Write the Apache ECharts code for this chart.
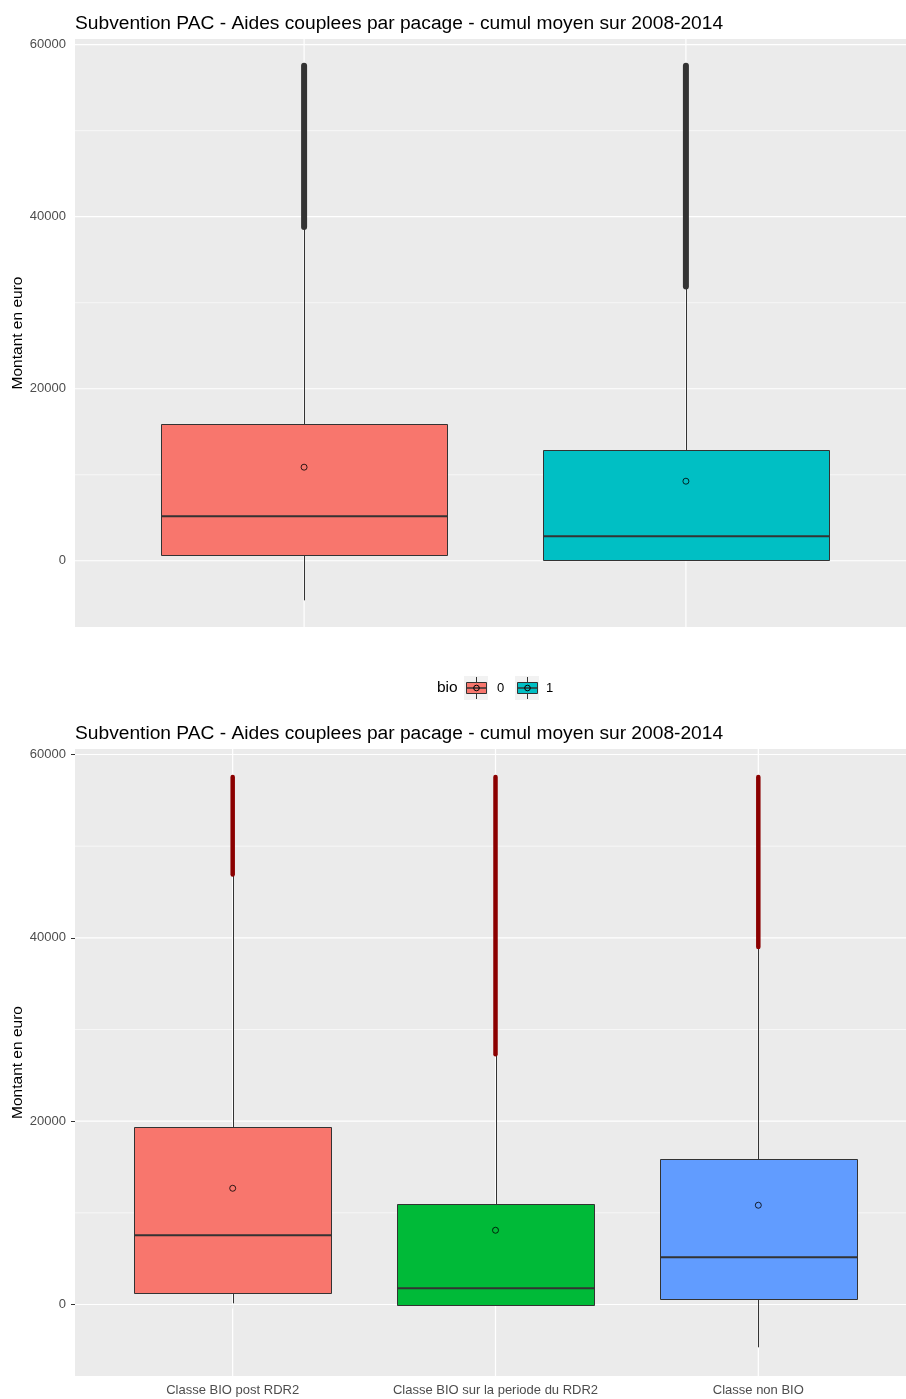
<!DOCTYPE html>
<html>
<head>
<meta charset="utf-8">
<script src="https://cdn.jsdelivr.net/npm/echarts@6/dist/echarts.min.js"></script>
<style>
  html, body { margin: 0; padding: 0; background: #ffffff; }
  #chart { width: 906px; height: 1399px; }
</style>
</head>
<body>
<div id="chart"></div>
<script>
// Upper panel: subsidies grouped by the "bio" flag
const bioGroups = ['0', '1'];
const bioLow = [-4600, 0];
const bioQ1 = [640, 50];
const bioMedian = [5180, 2850];
const bioQ3 = [15890, 12860];
const bioHigh = [38700, 31800];
const bioMean = [10880, 9250];
const bioOutlierMin = [38800, 31900];
const bioOutlierMax = [57550, 57550];
const bioColors = ['#F8766D', '#00BFC4'];

// Lower panel: subsidies grouped by organic-farming class
const classGroups = ['Classe BIO post RDR2', 'Classe BIO sur la periode du RDR2', 'Classe non BIO'];
const classLow = [130, 0, -4670];
const classQ1 = [1220, 0, 570];
const classMedian = [7550, 1770, 5150];
const classQ3 = [19340, 10940, 15850];
const classHigh = [46800, 27200, 38900];
const classMean = [12680, 8100, 10830];
const classOutlierMin = [46900, 27300, 39000];
const classOutlierMax = [57550, 57550, 57550];
const classColors = ['#F8766D', '#00BA38', '#619CFF'];

// Y tick values shared by both panels
const yMajorTicks = [0, 20000, 40000, 60000];
const yMinorTicks = [10000, 30000, 50000];

const TITLE = 'Subvention PAC - Aides couplees par pacage - cumul moyen sur 2008-2014';
const Y_NAME = 'Montant en euro';
const FONT = "'Liberation Sans', Arial, Helvetica, sans-serif";
const BOX_WIDTH = 0.75;
const LINE_COL = '#333333';

// Horizontal grid lines spanning the whole plotting area
function hGridSeries(gridIdx, values, width) {
  return {
    type: 'custom', xAxisIndex: gridIdx, yAxisIndex: gridIdx, z: 1, silent: true,
    data: values.map(v => [1, v]),
    encode: { x: 0, y: 1 },
    renderItem(params, api) {
      const cs = params.coordSys;
      const y = api.coord([api.value(0), api.value(1)])[1];
      return { type: 'line', shape: { x1: cs.x, y1: y, x2: cs.x + cs.width, y2: y },
               style: { stroke: '#ffffff', lineWidth: width } };
    }
  };
}

// Vertical grid lines at each category position
function vGridSeries(gridIdx, count) {
  const pos = [];
  for (let i = 1; i <= count; i++) pos.push([i, 0]);
  return {
    type: 'custom', xAxisIndex: gridIdx, yAxisIndex: gridIdx, z: 1, silent: true,
    data: pos,
    encode: { x: 0, y: 1 },
    renderItem(params, api) {
      const cs = params.coordSys;
      const x = api.coord([api.value(0), api.value(1)])[0];
      return { type: 'line', shape: { x1: x, y1: cs.y, x2: x, y2: cs.y + cs.height },
               style: { stroke: '#ffffff', lineWidth: 1.2 } };
    }
  };
}

// Box, whiskers and median bar
function boxSeries(gridIdx, low, q1, med, q3, high, colors) {
  return {
    type: 'custom', xAxisIndex: gridIdx, yAxisIndex: gridIdx, z: 2, silent: true,
    data: low.map((v, i) => [i + 1, low[i], q1[i], med[i], q3[i], high[i]]),
    dimensions: ['x', 'low', 'q1', 'median', 'q3', 'high'],
    encode: { x: 0, y: [1, 2, 3, 4, 5] },
    renderItem(params, api) {
      const x = api.value(0);
      const pLow = api.coord([x, api.value(1)]);
      const pQ1 = api.coord([x, api.value(2)]);
      const pMed = api.coord([x, api.value(3)]);
      const pQ3 = api.coord([x, api.value(4)]);
      const pHigh = api.coord([x, api.value(5)]);
      const half = api.size([BOX_WIDTH, 0])[0] / 2;
      const cx = Math.round(pQ1[0]) + 0.5;
      const left = Math.round(pQ1[0] - half) + 0.5;
      const right = Math.round(pQ1[0] + half) + 0.5;
      const top = Math.round(pQ3[1]) + 0.5;
      const bottom = Math.round(pQ1[1]) + 0.5;
      const color = colors[params.dataIndex];
      return {
        type: 'group',
        children: [
          { type: 'line', shape: { x1: cx, y1: pHigh[1], x2: cx, y2: top }, style: { stroke: LINE_COL, lineWidth: 1 } },
          { type: 'line', shape: { x1: cx, y1: bottom, x2: cx, y2: pLow[1] }, style: { stroke: LINE_COL, lineWidth: 1 } },
          { type: 'rect', shape: { x: left, y: top, width: right - left, height: bottom - top },
            style: { fill: color, stroke: LINE_COL, lineWidth: 1 } },
          { type: 'line', shape: { x1: left, y1: pMed[1], x2: right, y2: pMed[1] },
            style: { stroke: LINE_COL, lineWidth: 2 } }
        ]
      };
    }
  };
}

// Dense run of outlying points above the upper whisker
function outlierSeries(gridIdx, lo, hi, color, width) {
  return {
    type: 'custom', xAxisIndex: gridIdx, yAxisIndex: gridIdx, z: 3, silent: true,
    data: lo.map((v, i) => [i + 1, lo[i], hi[i]]),
    encode: { x: 0, y: [1, 2] },
    renderItem(params, api) {
      const a = api.coord([api.value(0), api.value(1)]);
      const b = api.coord([api.value(0), api.value(2)]);
      return { type: 'line', shape: { x1: a[0], y1: a[1], x2: b[0], y2: b[1] },
               style: { stroke: color, lineWidth: width, lineCap: 'round' } };
    }
  };
}

// Group means as open circles
function meanSeries(gridIdx, means) {
  return {
    type: 'scatter', xAxisIndex: gridIdx, yAxisIndex: gridIdx, z: 4, silent: true,
    data: means.map((v, i) => [i + 1, v]),
    symbol: 'circle', symbolSize: 6,
    itemStyle: { color: 'rgba(0,0,0,0)', borderColor: '#000000', borderWidth: 1 },
    emphasis: { disabled: true }
  };
}

function yAxisDef(gridIdx, min, max, withTicks) {
  return {
    type: 'value', gridIndex: gridIdx, min, max,
    axisLine: { show: false },
    splitLine: { show: false },
    axisTick: { show: withTicks, customValues: yMajorTicks, length: 4, lineStyle: { color: LINE_COL, width: 1 } },
    axisLabel: {
      customValues: yMajorTicks, margin: 9, color: '#4D4D4D', fontSize: 13, fontFamily: FONT,
      showMinLabel: true, showMaxLabel: true,
      formatter: v => (yMajorTicks.indexOf(v) >= 0 ? String(v) : '')
    },
    name: Y_NAME, nameLocation: 'middle', nameRotate: 90, nameGap: 49, nameMoveOverlap: false,
    nameTextStyle: { color: '#000000', fontSize: 15.5, fontFamily: FONT }
  };
}

function legendKey(x, color) {
  return {
    type: 'group', x: x, y: 676, silent: true,
    children: [
      { type: 'rect', shape: { x: 0, y: 0, width: 24, height: 24 }, style: { fill: '#F2F2F2' } },
      { type: 'line', shape: { x1: 12.5, y1: 1, x2: 12.5, y2: 7 }, style: { stroke: LINE_COL, lineWidth: 1 } },
      { type: 'line', shape: { x1: 12.5, y1: 17, x2: 12.5, y2: 23 }, style: { stroke: LINE_COL, lineWidth: 1 } },
      { type: 'rect', shape: { x: 2.5, y: 6.5, width: 20, height: 11 }, style: { fill: color, stroke: LINE_COL, lineWidth: 1 } },
      { type: 'line', shape: { x1: 2.5, y1: 12, x2: 22.5, y2: 12 }, style: { stroke: LINE_COL, lineWidth: 1.5 } },
      { type: 'circle', shape: { cx: 12.5, cy: 12, r: 2.8 }, style: { fill: 'none', stroke: '#000000', lineWidth: 1 } }
    ]
  };
}

const chart = echarts.init(document.getElementById('chart'), null, { renderer: 'canvas' });

chart.setOption({
  animation: false,
  backgroundColor: '#ffffff',
  textStyle: { fontFamily: FONT },
  title: [
    { text: TITLE, left: 75, top: 14, padding: 0, textStyle: { fontSize: 19.2, fontWeight: 'normal', color: '#000000', fontFamily: FONT } },
    { text: TITLE, left: 75, top: 724, padding: 0, textStyle: { fontSize: 19.2, fontWeight: 'normal', color: '#000000', fontFamily: FONT } }
  ],
  grid: [
    { left: 75, top: 39, width: 840, height: 588, show: true, backgroundColor: '#EBEBEB', borderWidth: 0, containLabel: false, outerBoundsMode: 'none' },
    { left: 75, top: 749, width: 841, height: 627, show: true, backgroundColor: '#EBEBEB', borderWidth: 0, containLabel: false, outerBoundsMode: 'none' }
  ],
  xAxis: [
    {
      type: 'value', gridIndex: 0, min: 0.4, max: 2.6,
      axisLine: { show: false }, axisTick: { show: false }, axisLabel: { show: false }, splitLine: { show: false }
    },
    {
      type: 'value', gridIndex: 1, min: 0.4, max: 3.6,
      axisLine: { show: false }, splitLine: { show: false },
      axisTick: { show: true, customValues: [1, 2, 3], length: 4, lineStyle: { color: LINE_COL, width: 1 } },
      axisLabel: {
        customValues: [1, 2, 3], margin: 8, color: '#4D4D4D', fontSize: 13, fontFamily: FONT,
        formatter: v => (Number.isInteger(v) && classGroups[v - 1] ? classGroups[v - 1] : '')
      }
    }
  ],
  yAxis: [
    yAxisDef(0, -7700, 60660, false),
    yAxisDef(1, -7800, 60600, true)
  ],
  series: [
    hGridSeries(0, yMinorTicks, 0.6),
    hGridSeries(0, yMajorTicks, 1.2),
    vGridSeries(0, bioGroups.length),
    boxSeries(0, bioLow, bioQ1, bioMedian, bioQ3, bioHigh, bioColors),
    outlierSeries(0, bioOutlierMin, bioOutlierMax, '#333333', 6),
    meanSeries(0, bioMean),

    hGridSeries(1, yMinorTicks, 0.6),
    hGridSeries(1, yMajorTicks, 1.2),
    vGridSeries(1, classGroups.length),
    boxSeries(1, classLow, classQ1, classMedian, classQ3, classHigh, classColors),
    outlierSeries(1, classOutlierMin, classOutlierMax, '#8B0000', 4.5),
    meanSeries(1, classMean)
  ],
  graphic: [
    { type: 'text', x: 437, y: 688, silent: true,
      style: { text: 'bio', fontSize: 15.5, fontFamily: FONT, fill: '#000000', textVerticalAlign: 'middle', verticalAlign: 'middle' } },
    legendKey(464, bioColors[0]),
    { type: 'text', x: 497, y: 688, silent: true,
      style: { text: bioGroups[0], fontSize: 13, fontFamily: FONT, fill: '#000000', textVerticalAlign: 'middle', verticalAlign: 'middle' } },
    legendKey(515, bioColors[1]),
    { type: 'text', x: 546, y: 688, silent: true,
      style: { text: bioGroups[1], fontSize: 13, fontFamily: FONT, fill: '#000000', textVerticalAlign: 'middle', verticalAlign: 'middle' } }
  ]
});
</script>
</body>
</html>
